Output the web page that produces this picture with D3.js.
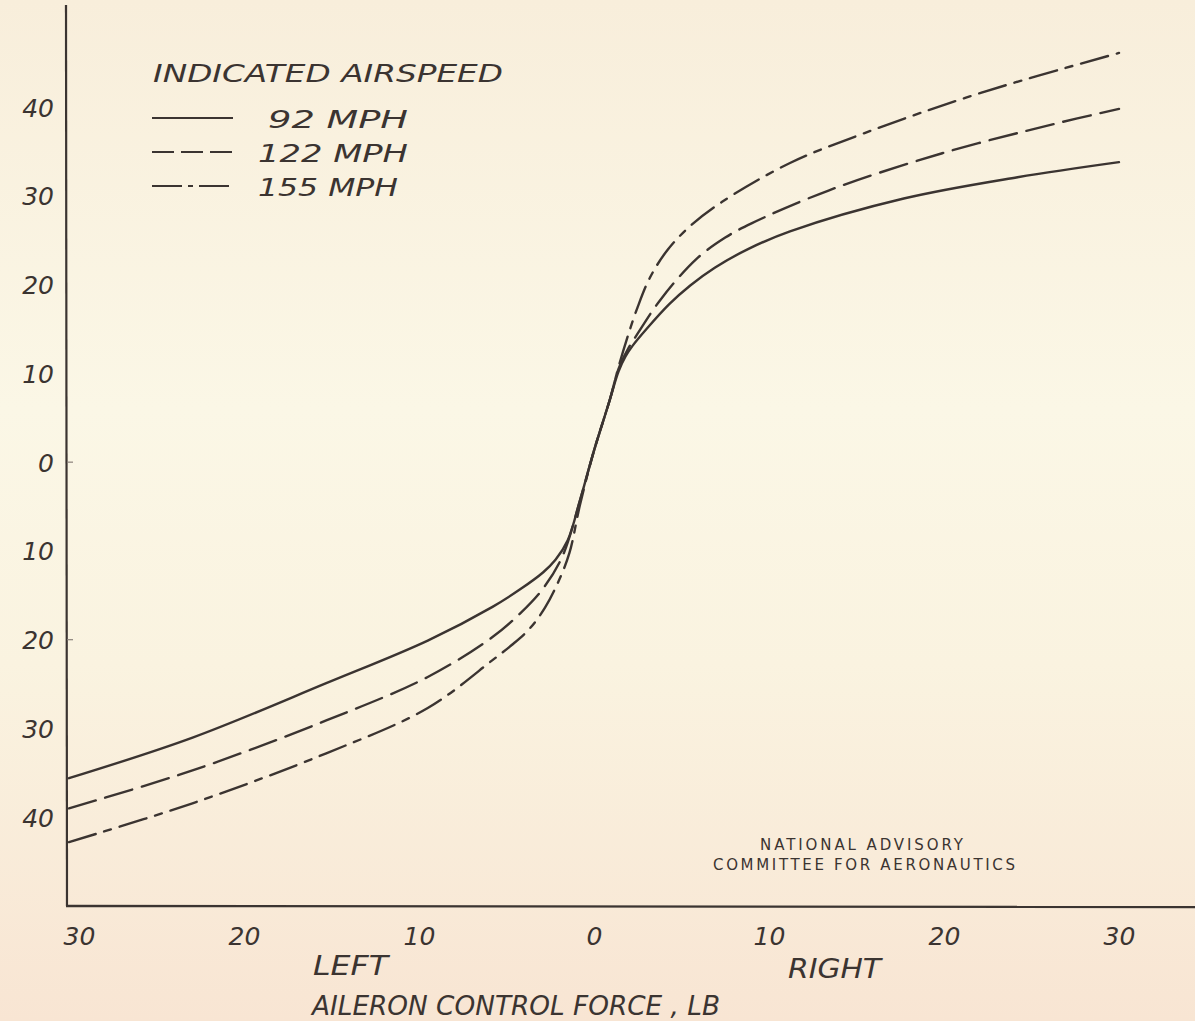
<!DOCTYPE html>
<html>
<head>
<meta charset="utf-8">
<script src="https://cdn.jsdelivr.net/npm/d3@7"></script>
<style>
  body { margin: 0; background: #f9f2df; }
  svg { display: block; }
  .hand { font-family: "DejaVu Sans", sans-serif; font-style: italic; fill: #3b3431; }
  .naca { font-family: "DejaVu Sans", sans-serif; fill: #3b3431; }
</style>
</head>
<body>
<div id="chart"></div>
<script>
var svgWidth = 1195;
var svgHeight = 1021;

// aileron control force, lb (negative = left), wheel position
var speeds = ["92 MPH", "122 MPH", "155 MPH"];

var force92  = [-30, -22.9, -15.3, -9.5, -5.8, -4.2, -2.9, -2.2, -1.5, -0.8, 0, 0.9, 1.4, 1.8, 2.2, 3.0, 4.3, 5.5, 6.9, 8.8, 11.2, 17.7, 24.2, 30];
var value92  = [-35.6, -31.0, -24.9, -20.1, -16.3, -14.3, -12.4, -11.0, -8.8, -4.3, 1.3, 7.0, 10.2, 11.9, 13.1, 15.0, 17.8, 19.9, 21.9, 24.0, 26.0, 29.7, 32.1, 33.8];

var force122 = [-30, -22.9, -15.3, -9.5, -5.8, -4.2, -2.9, -1.8, -0.8, 0, 0.9, 1.4, 1.9, 2.5, 3.8, 5.8, 7.5, 9.0, 13.4, 19.9, 26.3, 30];
var value122 = [-39.0, -34.7, -29.1, -24.2, -19.7, -17.0, -14.2, -10.6, -4.3, 1.3, 7.0, 10.5, 12.6, 14.5, 18.3, 22.8, 25.3, 26.9, 30.6, 34.8, 38.1, 39.8];

var force155 = [-30, -22.9, -15.3, -9.5, -5.8, -4.7, -3.7, -2.8, -2.0, -1.4, -0.8, 0, 0.9, 1.4, 1.9, 2.5, 3.2, 4.2, 5.5, 7.3, 11.2, 15.5, 22.1, 30];
var value155 = [-42.8, -38.4, -32.8, -27.7, -22.3, -20.6, -18.8, -16.4, -13.3, -10.2, -4.8, 1.3, 7.0, 10.7, 14.0, 17.5, 20.8, 23.9, 26.6, 29.3, 33.7, 37.1, 41.6, 46.1];

var xTicks = [-30, -20, -10, 0, 10, 20, 30];
var yTicks = [-40, -30, -20, -10, 0, 10, 20, 30, 40];

var series = [
  { name: speeds[0], xs: force92,  ys: value92,  dash: null },
  { name: speeds[1], xs: force122, ys: value122, dash: "28,10" },
  { name: speeds[2], xs: force155, ys: value155, dash: "28,9,7,9" }
];

var ink = "#3b3431";

var svg = d3.select("#chart")
  .append("svg")
  .attr("width", svgWidth)
  .attr("height", svgHeight);

// paper tone
var grad = svg.append("defs").append("linearGradient")
  .attr("id", "paper")
  .attr("x1", 0).attr("y1", 0).attr("x2", 0).attr("y2", 1);
grad.append("stop").attr("offset", "0%").attr("stop-color", "#f8eedb");
grad.append("stop").attr("offset", "40%").attr("stop-color", "#fbf7e6");
grad.append("stop").attr("offset", "65%").attr("stop-color", "#faf3e0");
grad.append("stop").attr("offset", "100%").attr("stop-color", "#f8e5d3");

svg.append("rect")
  .attr("width", svgWidth)
  .attr("height", svgHeight)
  .attr("fill", "url(#paper)");

// scales
var xScale = d3.scaleLinear()
  .domain([-30, 30])
  .range([69, 1119]);

var yScale = d3.scaleLinear()
  .domain([-50, 51.5])
  .range([906, 5]);

var axisX0 = 66, axisX1 = 1195, axisY0 = 906, axisY1 = 5;

// axis frame
svg.append("line")
  .attr("x1", axisX0).attr("y1", axisY1)
  .attr("x2", axisX0 + 1).attr("y2", axisY0)
  .attr("stroke", ink).attr("stroke-width", 2.2);

svg.append("line")
  .attr("x1", axisX0).attr("y1", axisY0)
  .attr("x2", axisX1).attr("y2", axisY0 + 1)
  .attr("stroke", ink).attr("stroke-width", 2.4);

// small pencil ticks at 0 and 20
svg.selectAll(".nick")
  .data([0, -20])
  .enter()
  .append("line")
  .attr("x1", axisX0 + 1).attr("x2", axisX0 + 7)
  .attr("y1", d => yScale(d)).attr("y2", d => yScale(d))
  .attr("stroke", "#8a817a").attr("stroke-width", 1.2);

// tick labels (absolute values, both directions)
var bottomAxis = d3.axisBottom(xScale)
  .tickValues(xTicks)
  .tickSize(0)
  .tickPadding(0)
  .tickFormat(d => Math.abs(d));

var gx = svg.append("g")
  .attr("transform", `translate(0, ${axisY0})`)
  .call(bottomAxis);
gx.select(".domain").remove();
gx.selectAll("text")
  .attr("class", "hand")
  .attr("dy", null)
  .attr("y", 39)
  .attr("dx", d => d === -30 ? 10 : 0)
  .attr("font-size", 25)
  .attr("fill", ink);

var leftAxis = d3.axisLeft(yScale)
  .tickValues(yTicks)
  .tickSize(0)
  .tickPadding(0)
  .tickFormat(d => Math.abs(d));

var gy = svg.append("g")
  .attr("transform", `translate(${axisX0}, 0)`)
  .call(leftAxis);
gy.select(".domain").remove();
gy.selectAll("text")
  .attr("class", "hand")
  .attr("x", -12)
  .attr("dy", "0.36em")
  .attr("font-size", 25)
  .attr("fill", ink);

// curves
var line = d3.line()
  .x(d => xScale(d[0]))
  .y(d => yScale(d[1]))
  .curve(d3.curveCatmullRom.alpha(0.5));

svg.selectAll(".curve")
  .data(series)
  .enter()
  .append("path")
  .attr("class", "curve")
  .attr("d", s => line(d3.zip(s.xs, s.ys)))
  .attr("fill", "none")
  .attr("stroke", ink)
  .attr("stroke-width", 2.4)
  .attr("stroke-linecap", "round")
  .attr("stroke-dasharray", s => s.dash);

// legend
svg.append("text")
  .attr("class", "hand")
  .attr("x", 153)
  .attr("y", 82)
  .attr("font-size", 25)
  .attr("textLength", 350)
  .attr("lengthAdjust", "spacingAndGlyphs")
  .text("INDICATED AIRSPEED");

var legendRows = [
  { y: 118, textX: 268, len: 140, dash: null },
  { y: 152, textX: 258, len: 150, dash: "22,7" },
  { y: 186, textX: 258, len: 140, dash: "30,6,5,6" }
];

var legend = svg.selectAll(".legendRow")
  .data(series)
  .enter()
  .append("g")
  .attr("class", "legendRow");

legend.append("line")
  .attr("x1", 152)
  .attr("x2", 233)
  .attr("y1", (d, i) => legendRows[i].y)
  .attr("y2", (d, i) => legendRows[i].y)
  .attr("stroke", ink)
  .attr("stroke-width", 2)
  .attr("stroke-dasharray", (d, i) => legendRows[i].dash);

legend.append("text")
  .attr("class", "hand")
  .attr("x", (d, i) => legendRows[i].textX)
  .attr("y", (d, i) => legendRows[i].y + 10)
  .attr("font-size", 25)
  .attr("textLength", (d, i) => legendRows[i].len)
  .attr("lengthAdjust", "spacingAndGlyphs")
  .text(d => d.name);

// axis captions
svg.append("text")
  .attr("class", "hand")
  .attr("x", 313).attr("y", 975)
  .attr("font-size", 26)
  .attr("textLength", 75)
  .attr("lengthAdjust", "spacingAndGlyphs")
  .text("LEFT");

svg.append("text")
  .attr("class", "hand")
  .attr("x", 788).attr("y", 978)
  .attr("font-size", 26)
  .attr("textLength", 93)
  .attr("lengthAdjust", "spacingAndGlyphs")
  .text("RIGHT");

svg.append("text")
  .attr("class", "hand")
  .attr("x", 312).attr("y", 1015)
  .attr("font-size", 26)
  .attr("textLength", 408)
  .attr("lengthAdjust", "spacingAndGlyphs")
  .text("AILERON CONTROL FORCE , LB");

// NACA stamp
svg.append("text")
  .attr("class", "naca")
  .attr("x", 760).attr("y", 850)
  .attr("font-size", 15)
  .attr("textLength", 203)
  .attr("lengthAdjust", "spacing")
  .text("NATIONAL ADVISORY");

svg.append("text")
  .attr("class", "naca")
  .attr("x", 713).attr("y", 870)
  .attr("font-size", 15)
  .attr("textLength", 302)
  .attr("lengthAdjust", "spacing")
  .text("COMMITTEE FOR AERONAUTICS");
</script>
</body>
</html>
